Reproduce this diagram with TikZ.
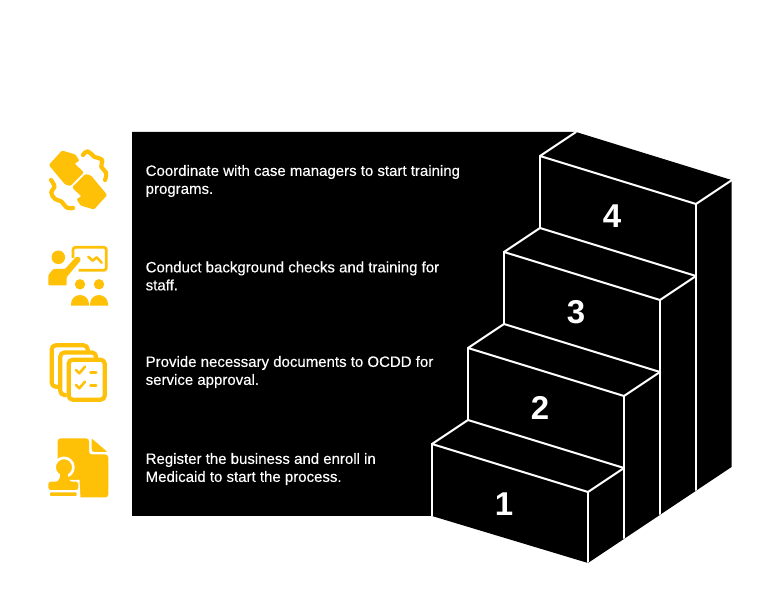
\documentclass[tikz,border=0pt]{standalone}
\usepackage{fontspec}
\setmainfont{Liberation Sans}
\definecolor{amber}{HTML}{FFC107}
\tikzset{
  edge/.style={draw=white,line width=2pt,line cap=round,line join=round},
  desc/.style={text=white,anchor=west,align=left,inner sep=0pt,font=\fontsize{15}{18}\selectfont\addfontfeature{FakeBold=0.25}},
  num/.style={text=white,inner sep=0pt,font=\fontsize{33}{33}\selectfont\bfseries},
  ico/.style={draw=amber,line width=4.2pt,line cap=round,line join=round}
}
\begin{document}
\begin{tikzpicture}[x=1pt,y=-1pt]
\useasboundingbox (0,0) rectangle (780,612);
\fill[white] (0,0) rectangle (780,612);
\fill[black] (132,132) -- (576,132) -- (731.5,180) -- (731.5,467) -- (588,563) -- (432,516) -- (132,516) -- cycle;
% stairs
\foreach \s/\x/\y in {4/540/156,3/504/252,2/468/348,1/432/444}{
  \coordinate (fl\s) at (\x,\y);
  \coordinate (bl\s) at (\x+36,\y-24);
  \coordinate (fr\s) at (\x+156,\y+48);
  \coordinate (br\s) at (\x+192,\y+24);
  \coordinate (dl\s) at (\x,\y+72);
  \draw[edge] (bl\s) -- (fl\s) -- (fr\s) -- (br\s);
  \draw[edge] (fl\s) -- (dl\s);
}
\coordinate (e4) at (696,490);
\coordinate (e3) at (660,514);
\coordinate (e2) at (624,538);
\coordinate (e1) at (588,562);
\draw[edge] (fr4) -- (e4);
\draw[edge] (fr3) -- (e3);
\draw[edge] (fr2) -- (e2);
\draw[edge] (fr1) -- (e1);
\draw[edge] (dl4) -- (br3);
\draw[edge] (dl3) -- (br2);
\draw[edge] (dl2) -- (br1);
\node[num] (n4) at (612,216) {4};
\node[num] (n3) at (576,312) {3};
\node[num] (n2) at (540,408) {2};
\node[num] (n1) at (504,504) {1};
% texts
\node[desc] (t4) at (145.5,181) {Coordinate with case managers to start training\\programs.};
\node[desc] (t3) at (145.5,276) {Conduct background checks and training for\\staff.};
\node[desc] (t2) at (145.5,372) {Provide necessary documents to OCDD for\\service approval.};
\node[desc] (t1) at (145.5,469) {Register the business and enroll in\\Medicaid to start the process.};
% icon 1: clasped hands
\foreach \r in {0,180}{
 \begin{scope}[rotate around={\r:(78,180)}]
  \fill[amber,rounded corners=1.2pt] (48.8,165) -- (62,150.5) -- (75.5,154.5) -- (79.5,161) -- (74.5,163.5) -- (84,172.5) -- (70.5,186) -- (65,184.5) -- cycle;
 \end{scope}
}
\draw[ico] plot[smooth,tension=0.8] coordinates {(83,155) (88,151.5) (94.5,157) (101.8,159.5) (101.3,167) (106,172.5) (105,180)};
\draw[ico] plot[smooth,tension=0.8] coordinates {(51,180) (54.5,187) (51.2,192) (55,199) (61.5,201.5) (66.5,207.5) (73,208)};
% icon 2: presenter
\fill[amber] (58.3,257.3) circle (6.8);
\fill[amber,rounded corners=1pt] (48.3,285.5) -- (48.3,275) -- (53.3,269) -- (65,269) -- (74.5,258.5) .. controls (77,255.5) and (82,257.5) .. (79.8,261.5) -- (66.7,277) -- (66.7,285.5) -- cycle;
\draw[ico,line width=2.8pt,line cap=butt,rounded corners=2.5pt] (73,258) -- (73,247.3) -- (106.3,247.3) -- (106.3,270.3) -- (78.5,270.3);
\draw[ico,line width=2.6pt] (88.3,256.7) -- (92.7,260.7) -- (96.7,257.3) -- (101.7,262.7);
\fill[amber] (80,284.3) circle (5.2);
\fill[amber] (99,284.3) circle (5.2);
\fill[amber] (71,305.7) -- (71,304) arc[start angle=180,end angle=360,x radius=9,y radius=9] -- (89,305.7) -- cycle;
\fill[amber] (90,305.7) -- (90,304) arc[start angle=180,end angle=360,x radius=9,y radius=9] -- (108,305.7) -- cycle;
% icon 3: documents
\draw[ico,line cap=butt,rounded corners=4pt] (58,386.7) -- (51.7,386.7) -- (51.7,345.3) -- (87.7,345.3) -- (87.7,351);
\draw[ico,line cap=butt,rounded corners=4pt] (66.7,395) -- (60.3,395) -- (60.3,352.5) -- (96,352.5) -- (96,358);
\draw[ico,rounded corners=4pt] (68.7,359.7) rectangle (104.7,399.7);
\draw[ico,line width=2.6pt] (76,370) -- (79.3,373.3) -- (85,366.7);
\draw[ico,line width=2.6pt] (90.5,372.3) -- (96.2,372.3);
\draw[ico,line width=2.6pt] (76,385) -- (79.3,388.3) -- (85,381.7);
\draw[ico,line width=2.6pt] (90.5,385.7) -- (96.2,385.7);
% icon 4: document and stamp
\fill[amber,rounded corners=3pt] (57.7,438.3) -- (89,438.3) -- (89,454.5) -- (108.3,454.5) -- (108.3,497.5) -- (57.7,497.5) -- cycle;
\fill[amber,rounded corners=1pt] (91.7,438.5) -- (107.5,452) -- (93,452) -- (91.7,450) -- cycle;
\fill[white] (50,467.3) -- (64,467.3) -- (64,480) -- (79.5,480) -- (80.5,499) -- (50,499) -- cycle;
\fill[amber,draw=white,line width=2.6pt] (64,467.3) circle (9.4);
\fill[amber] (60.3,473) -- (68,473) .. controls (68,478) and (69,481) .. (72,482) -- (56,482) .. controls (59,481) and (60.3,478) .. (60.3,473) -- cycle;
\fill[amber,rounded corners=2.5pt] (48.3,490) -- (48.3,481.7) -- (78.3,481.7) -- (78.3,490) -- cycle;
\fill[amber,rounded corners=0.8pt] (50,492.5) -- (76.7,492.5) -- (76.7,496) -- (50,496) -- cycle;
\end{tikzpicture}
\end{document}
